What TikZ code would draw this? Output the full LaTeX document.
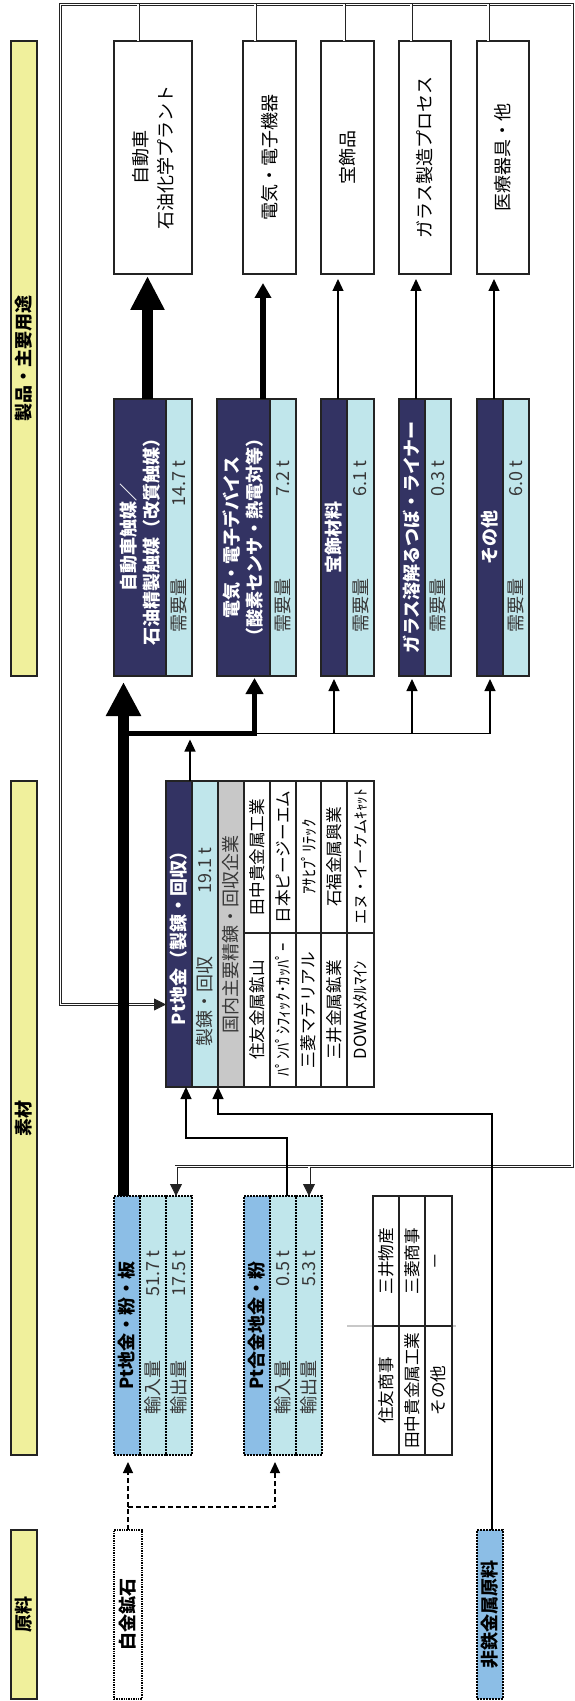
\documentclass[tikz,border=0pt]{standalone}
\usepackage{fontspec}
\setmainfont{Noto Sans CJK JP}
\usetikzlibrary{arrows.meta}
\definecolor{ylw}{RGB}{240,240,156}
\definecolor{navy}{RGB}{51,51,99}
\definecolor{cyn}{RGB}{192,230,235}
\definecolor{blu}{RGB}{140,190,230}
\definecolor{gry}{RGB}{200,200,200}
\definecolor{edge}{RGB}{35,35,35}
\definecolor{txtgray}{RGB}{55,55,55}
\newcommand{\pxbox}[6]{%
  \pgfmathsetlengthmacro\pxbw{(#4-#2)*0.5pt}%
  \pgfmathsetlengthmacro\pxbh{(#5-#3)*0.5pt}%
  \node[#6, minimum width=\pxbw, minimum height=\pxbh] (#1) at ({(#2+#4)/2},{(#3+#5)/2}) {};%
}
\begin{document}
\begin{tikzpicture}[x=0.5pt,y=-0.5pt,
  bx/.style={draw=edge, line width=0.9pt, inner sep=0pt, outer sep=0pt},
  dbx/.style={draw=black, line width=0.8pt, dash pattern=on 0.8pt off 0.7pt, inner sep=0pt, outer sep=0pt},
  hbx/.style={draw=black, line width=1.4pt, dash pattern=on 0.7pt off 0.5pt, inner sep=0pt, outer sep=0pt},
  txt/.style={rotate=90, inner sep=0pt, align=center, font=\fontsize{9pt}{12.5pt}\selectfont, text=black},
  hdr/.style={txt, font=\fontsize{9pt}{11.5pt}\selectfont\bfseries},
  ctxt/.style={txt, text=txtgray},
  celltxt/.style={txt, font=\fontsize{8.3pt}{10pt}\selectfont},
  smtxt/.style={txt, font=\fontsize{7.6pt}{9pt}\selectfont},
  dbl/.style={draw=edge, double=white, line width=0.4pt, double distance=0.7pt},
  dblarr/.style={draw=edge, line width=0.4pt, -{Triangle[length=6pt,width=6pt]}},
  thinarr/.style={draw=black, line width=0.65pt, -{Triangle[length=6pt,width=5.5pt]}},
  thinln/.style={draw=black, line width=0.65pt},
  dsh/.style={draw=black, line width=0.6pt, dash pattern=on 2.5pt off 1.5pt},
  dsharr/.style={dsh, -{Triangle[length=5.5pt,width=5pt]}},
]
\fill[white] (0,0) rectangle (574,1701);
\useasboundingbox (0,0) rectangle (574,1701);

% ---------- frame (double lines) ----------
\coordinate (fTL) at (60.5,4.5);
\coordinate (fTR) at (572,4.5);
\coordinate (fBR) at (572,1166.5);

% ---------- section bars ----------
\pxbox{Y1}{11}{41}{37}{676}{bx, fill=ylw}
\pxbox{Y2}{11}{781}{37}{1455}{bx, fill=ylw}
\pxbox{Y3}{11}{1530}{37}{1699}{bx, fill=ylw}
\node[hdr] (tY1) at (Y1) {製品・主要用途};
\node[hdr] (tY2) at (Y2) {素材};
\node[hdr] (tY3) at (Y3) {原料};

% ---------- product boxes ----------
\pxbox{P1}{114}{41}{192}{274}{bx, fill=white}
\pxbox{P2}{243}{41}{296}{274}{bx, fill=white}
\pxbox{P3}{321}{41}{374}{274}{bx, fill=white}
\pxbox{P4}{399}{41}{451}{274}{bx, fill=white}
\pxbox{P5}{477}{41}{529}{274}{bx, fill=white}

% ---------- use boxes ----------
\pxbox{U1d}{114}{399}{166}{676}{bx, fill=navy}
\pxbox{U1c}{166}{399}{192}{676}{bx, fill=cyn}
\pxbox{U2d}{217}{399}{270}{676}{bx, fill=navy}
\pxbox{U2c}{270}{399}{296}{676}{bx, fill=cyn}
\pxbox{U3d}{321}{399}{347}{676}{bx, fill=navy}
\pxbox{U3c}{347}{399}{374}{676}{bx, fill=cyn}
\pxbox{U4d}{399}{399}{425}{676}{bx, fill=navy}
\pxbox{U4c}{425}{399}{451}{676}{bx, fill=cyn}
\pxbox{U5d}{477}{399}{503}{676}{bx, fill=navy}
\pxbox{U5c}{503}{399}{529}{676}{bx, fill=cyn}

% ---------- refining box ----------
\pxbox{Rd}{166}{781}{192}{1087}{bx, fill=navy}
\pxbox{Rc}{192}{781}{218}{1087}{bx, fill=cyn}
\pxbox{Rg}{218}{781}{244}{1087}{bx, fill=gry}
\pxbox{W1u}{244}{781}{270}{933}{bx, fill=white}
\pxbox{W1l}{244}{933}{270}{1087}{bx, fill=white}
\pxbox{W2u}{270}{781}{296}{933}{bx, fill=white}
\pxbox{W2l}{270}{933}{296}{1087}{bx, fill=white}
\pxbox{W3u}{296}{781}{321}{933}{bx, fill=white}
\pxbox{W3l}{296}{933}{321}{1087}{bx, fill=white}
\pxbox{W4u}{321}{781}{347}{933}{bx, fill=white}
\pxbox{W4l}{321}{933}{347}{1087}{bx, fill=white}
\pxbox{W5u}{347}{781}{374}{933}{bx, fill=white}
\pxbox{W5l}{347}{933}{374}{1087}{bx, fill=white}

% ---------- import boxes ----------
\pxbox{I1h}{114}{1196}{140}{1455}{dbx, fill=blu}
\pxbox{I1a}{140}{1196}{166}{1455}{dbx, fill=cyn}
\pxbox{I1c}{166}{1196}{192}{1455}{dbx, fill=cyn}
\pxbox{I2h}{244}{1196}{270}{1455}{dbx, fill=blu}
\pxbox{I2a}{270}{1196}{296}{1455}{dbx, fill=cyn}
\pxbox{I2c}{296}{1196}{322}{1455}{dbx, fill=cyn}

% ---------- trading table ----------
\draw[gry, line width=0.6pt] (347,1326) -- (456,1326);
\pxbox{T1u}{373}{1196}{399}{1326}{bx, fill=white}
\pxbox{T1l}{373}{1326}{399}{1455}{bx, fill=white}
\pxbox{T2u}{399}{1196}{425}{1326}{bx, fill=white}
\pxbox{T2l}{399}{1326}{425}{1455}{bx, fill=white}
\pxbox{T3u}{425}{1196}{452}{1326}{bx, fill=white}
\pxbox{T3l}{425}{1326}{452}{1455}{bx, fill=white}

% ---------- raw materials ----------
\pxbox{Ore}{114}{1530}{142}{1699}{hbx, fill=white}
\pxbox{Nf}{477}{1530}{503}{1699}{dbx, fill=blu}

% ---------- double-line frame and returns ----------
\coordinate (rIn) at ([yshift=41.25pt]Rd.south west);
\coordinate (eA) at ([xshift=5pt]I1c.north west);
\coordinate (eB) at ([xshift=6.5pt]I2c.north west);
\draw[dbl] ([xshift=-6pt]rIn) -| (fTL) -- (fTR) -- (fBR) -| ([yshift=6pt]eA);
\draw[dbl] (eB |- fBR) -- ([yshift=6pt]eB);
\draw[dblarr] ([xshift=-6pt]rIn) -- (rIn);
\draw[dblarr] ([yshift=6pt]eA) -- (eA);
\draw[dblarr] ([yshift=6pt]eB) -- (eB);
\coordinate (cP1) at ([xshift=12pt]P1.north west);
\coordinate (cP2) at ([xshift=6pt]P2.north west);
\coordinate (cP3) at ([xshift=11.5pt]P3.north west);
\coordinate (cP4) at ([xshift=6pt]P4.north west);
\coordinate (cP5) at ([xshift=5.5pt]P5.north west);
\foreach \c in {cP1,cP2,cP3,cP4,cP5}{\draw[dbl] (\c) -- (\c |- fTL);}

% ---------- main flows ----------
\draw[line width=5.5pt, -{Triangle[length=17pt,width=16.5pt]}] ([xshift=4.75pt]I1h.north west) -- ([xshift=4.75pt,yshift=-3pt]U1d.south west);
\coordinate (busL) at (123.5,733.5);
\coordinate (busR) at (254.5,733.5);
\draw[line width=2.5pt, line join=miter, -{Triangle[length=8pt,width=8.5pt]}] (busL) -| ([xshift=18.75pt,yshift=-1pt]U2d.south west);
\coordinate (lJ) at ([xshift=6.5pt]U3d.south west);
\coordinate (lG) at ([xshift=6.5pt]U4d.south west);
\coordinate (lM) at ([xshift=6.5pt]U5d.south west);
\draw[thinln] (busR) -- (lM |- busR);
\draw[thinarr, shorten >=1.5pt] (lJ |- busR) -- (lJ);
\draw[thinarr, shorten >=1.5pt] (lG |- busR) -- (lG);
\draw[thinarr, shorten >=1.5pt] (lM |- busR) -- (lM);
\coordinate (rO) at ([xshift=12pt]Rd.north west);
\draw[thinarr, shorten >=3pt] (rO) -- (rO |- busR);

% use -> products
\coordinate (aU1) at ([xshift=16.75pt]U1d.north west);
\coordinate (aU2) at ([xshift=23pt]U2d.north west);
\coordinate (aU3) at ([xshift=8.5pt]U3d.north west);
\coordinate (aU4) at ([xshift=8.5pt]U4d.north west);
\coordinate (aU5) at ([xshift=8.5pt]U5d.north west);
\draw[line width=5.5pt, -{Triangle[length=17pt,width=16pt]}, shorten >=1pt] (aU1) -- (aU1 |- P1.south);
\draw[line width=3pt, -{Triangle[length=7.5pt,width=8pt]}, shorten >=4.5pt] (aU2) -- (aU2 |- P2.south);
\draw[thinarr, shorten >=2.5pt] (aU3) -- (aU3 |- P3.south);
\draw[thinarr, shorten >=2.5pt] (aU4) -- (aU4 |- P4.south);
\draw[thinarr, shorten >=2.5pt] (aU5) -- (aU5 |- P5.south);

% inputs to refining
\coordinate (bA) at ([xshift=8.5pt]I2a.north west);
\coordinate (bAt) at ([xshift=10pt]Rd.south west);
\draw[thinarr] (bA) -- ++(0,-58) -| (bAt);
\coordinate (bB) at ([xshift=7.5pt]Nf.north west);
\draw[thinarr] (bB) -- ++(0,-416) -| (Rc.south east);

% ore dashed
\coordinate (oJ) at ([yshift=11.5pt]Ore.north);
\coordinate (oB) at ([xshift=2.5pt]I2a.south west);
\draw[dsh] (Ore.north) -- (oJ);
\draw[dsharr, shorten >=3.5pt] (oJ) -- (oJ |- I1h.south);
\draw[dsharr, shorten >=3.5pt] (oJ) -| (oB);

% ---------- texts ----------
\node[txt] (tP1) at (P1) {自動車\\石油化学プラント};
\node[txt] (tP2) at (P2) {電気・電子機器};
\node[txt] (tP3) at (P3) {宝飾品};
\node[txt] (tP4) at (P4) {ガラス製造プロセス};
\node[txt] (tP5) at (P5) {医療器具・他};

\node[hdr, text=white] (tU1) at (U1d) {自動車触媒／\\石油精製触媒（改質触媒）};
\node[hdr, text=white] (tU2) at (U2d) {電気・電子デバイス\\（酸素センサ・熱電対等）};
\node[hdr, text=white] (tU3) at (U3d) {宝飾材料};
\node[hdr, text=white] (tU4) at (U4d) {ガラス溶解るつぼ・ライナー};
\node[hdr, text=white] (tU5) at (U5d) {その他};
\foreach \u/\v in {U1c/14.7 t, U2c/7.2 t, U3c/6.1 t, U4c/0.3 t, U5c/6.0 t}{
  \node[ctxt, anchor=west] at ([yshift=21.5pt]\u.south) {需要量};
  \node[ctxt, anchor=east] at ([yshift=-30.5pt]\u.north) {\v};
}

\node[hdr, text=white] (tRd) at (Rd) {Pt地金（製錬・回収）};
\node[ctxt, anchor=west] (tRc1) at ([yshift=20pt]Rc.south) {製錬・回収};
\node[ctxt, anchor=east] (tRc2) at ([yshift=-33pt]Rc.north) {19.1 t};
\node[ctxt] (tRg) at (Rg) {国内主要精錬・回収企業};
\node[celltxt] at (W1u) {田中貴金属工業};
\node[celltxt] at (W1l) {住友金属鉱山};
\node[celltxt] at (W2u) {日本ピージーエム};
\node[celltxt] at (W2l) {ﾊﾟﾝﾊﾟｼﾌｨｯｸ･ｶｯﾊﾟｰ};
\node[celltxt] at (W3u) {ｱｻﾋﾌﾟﾘﾃｯｸ};
\node[celltxt] at (W3l) {三菱マテリアル};
\node[celltxt] at (W4u) {石福金属興業};
\node[celltxt] at (W4l) {三井金属鉱業};
\node[smtxt] at (W5u) {エヌ・イーケムｷｬｯﾄ};
\node[celltxt] at (W5l) {DOWAﾒﾀﾙﾏｲﾝ};

\node[hdr] (tI1) at (I1h) {Pt地金・粉・板};
\node[ctxt, anchor=west] at ([yshift=20pt]I1a.south) {輸入量};
\node[ctxt, anchor=east] at ([yshift=-27pt]I1a.north) {51.7 t};
\node[ctxt, anchor=west] at ([yshift=20pt]I1c.south) {輸出量};
\node[ctxt, anchor=east] at ([yshift=-27pt]I1c.north) {17.5 t};
\node[hdr] (tI2) at (I2h) {Pt合金地金・粉};
\node[ctxt, anchor=west] at ([yshift=20pt]I2a.south) {輸入量};
\node[ctxt, anchor=east] at ([yshift=-27pt]I2a.north) {0.5 t};
\node[ctxt, anchor=west] at ([yshift=20pt]I2c.south) {輸出量};
\node[ctxt, anchor=east] at ([yshift=-27pt]I2c.north) {5.3 t};

\node[celltxt] at (T1u) {三井物産};
\node[celltxt] at (T1l) {住友商事};
\node[celltxt] at (T2u) {三菱商事};
\node[celltxt] at (T2l) {田中貴金属工業};
\node[celltxt] at (T3u) {－};
\node[celltxt] at (T3l) {その他};

\node[hdr] (tOre) at (Ore) {白金鉱石};
\node[hdr] (tNf) at (Nf) {非鉄金属原料};
\end{tikzpicture}
\end{document}
